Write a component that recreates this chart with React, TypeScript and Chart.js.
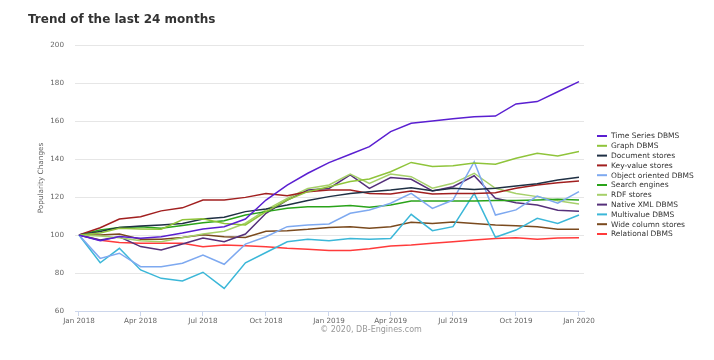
import React, { useEffect, useRef } from 'react';
import { Chart, registerables } from 'chart.js';

Chart.register(...registerables);

const TITLE = 'Trend of the last 24 months';
const CREDIT = '\u00a9 2020, DB-Engines.com';
const Y_TITLE = 'Popularity Changes';

const months = [
  '2018-01', '2018-02', '2018-03', '2018-04', '2018-05', '2018-06', '2018-07', '2018-08', '2018-09',
  '2018-10', '2018-11', '2018-12', '2019-01', '2019-02', '2019-03', '2019-04', '2019-05', '2019-06',
  '2019-07', '2019-08', '2019-09', '2019-10', '2019-11', '2019-12', '2020-01',
];

const tickMonths = ['2018-01', '2018-04', '2018-07', '2018-10', '2019-01', '2019-04', '2019-07', '2019-10', '2020-01'];
const tickLabels = ['Jan 2018', 'Apr 2018', 'Jul 2018', 'Oct 2018', 'Jan 2019', 'Apr 2019', 'Jul 2019', 'Oct 2019', 'Jan 2020'];

const timeSeries = [100, 97, 99.2, 98.3, 99.1, 101, 103.2, 104.4, 108.4, 118.4, 126.3, 132.5, 138.1, 142.5, 146.5, 154.4, 158.8, 160, 161.2, 162.3, 162.6, 169, 170.2, 175.4, 180.7];
const graphDbms = [100, 101, 103.5, 103.2, 103, 108, 108.5, 106, 105.3, 112.3, 118.4, 122.8, 125.4, 128.1, 129.5, 133.3, 138.2, 136, 136.5, 137.9, 137.2, 140.4, 143, 141.6, 143.9];
const documentStores = [100, 101.8, 104, 104.7, 105.3, 106.1, 108.4, 109.3, 112.3, 113.7, 115.8, 118.1, 120.2, 121.9, 122.8, 123.7, 124.9, 123.3, 124.6, 124, 124.6, 125.8, 127, 128.9, 130.4];
const keyValue = [100, 103.8, 108.4, 109.6, 112.7, 114.3, 118.4, 118.4, 119.8, 121.9, 120.7, 122.8, 123.7, 123.7, 121.9, 121.6, 123.2, 121.6, 121.9, 121.9, 122.3, 124.6, 126.3, 127.5, 128.4];
const objectOriented = [100, 87.7, 90.4, 83.3, 83.3, 85.1, 89.5, 84.6, 95.2, 99.1, 104.4, 105.3, 105.8, 111.4, 113.2, 116.7, 121.9, 114, 118.4, 138.6, 110.5, 113.2, 120.5, 116.7, 122.8];
const searchEngines = [100, 102.6, 104, 104.4, 103.5, 105, 106.5, 107.5, 110.5, 112.3, 114.1, 114.9, 114.9, 115.5, 114.6, 115.8, 117.9, 117.9, 117.9, 117.9, 118.1, 118.1, 118.4, 118.8, 118.4];
const rdfStores = [100, 99.5, 98.5, 97, 96.5, 98.5, 100.5, 102, 106.2, 113.2, 119.3, 124.5, 126.3, 132.1, 127.2, 132.1, 130.7, 124.6, 127.2, 132.5, 124.6, 121.9, 120.2, 118, 116.3];
const nativeXml = [100, 97.4, 99.1, 93.9, 92.1, 95.3, 98.4, 96.5, 100.5, 111.4, 118.4, 123.7, 124.5, 131.6, 124.5, 130.2, 129.3, 123.2, 125.4, 131.2, 119.3, 117, 115.8, 113, 112.5];
const multivalue = [100, 85.4, 93, 81.6, 77.2, 75.8, 80.4, 71.9, 85.4, 90.8, 96.4, 97.7, 97, 98.2, 97.7, 98.2, 110.9, 102.3, 104.4, 121.9, 98.8, 102.6, 108.8, 106.1, 110.5];
const wideColumn = [100, 100, 100.5, 97.8, 97.8, 98.7, 100.1, 99.1, 98.7, 102, 102.3, 103, 104, 104.4, 103.5, 104.4, 106.7, 106.1, 106.8, 106.1, 105.3, 104.9, 104.4, 103, 103];
const relational = [100, 97.2, 96, 95.7, 95.6, 95.6, 93.8, 94.8, 94.3, 93.8, 93, 92.5, 91.8, 91.8, 92.8, 94.2, 94.7, 95.6, 96.5, 97.4, 98.2, 98.6, 97.7, 98.4, 98.6];

const seriesNames = [
  'Time Series DBMS', 'Graph DBMS', 'Document stores', 'Key-value stores', 'Object oriented DBMS',
  'Search engines', 'RDF stores', 'Native XML DBMS', 'Multivalue DBMS', 'Wide column stores', 'Relational DBMS',
];
const seriesValues = [
  timeSeries, graphDbms, documentStores, keyValue, objectOriented,
  searchEngines, rdfStores, nativeXml, multivalue, wideColumn, relational,
];
const seriesColors = [
  '#5a1fd1', '#8fc43a', '#1f3044', '#a11f1f', '#7ea9f0',
  '#2aa31a', '#a6d06a', '#55307a', '#3bb7d8', '#7a4a1e', '#ff3b3b',
];

const FONT = '"DejaVu Sans", Verdana, sans-serif';

function dayOffset(m: string): number {
  const [y, mo] = m.split('-').map(Number);
  return (Date.UTC(y, mo - 1, 1) - Date.UTC(2018, 0, 1)) / 86400000;
}

const decorPlugin = {
  id: 'decor',
  afterDraw(chart: any) {
    const ctx = chart.ctx as CanvasRenderingContext2D;
    ctx.save();
    ctx.font = `bold 12px ${FONT}`;
    ctx.fillStyle = '#333333';
    ctx.textAlign = 'left';
    ctx.textBaseline = 'alphabetic';
    ctx.fillText(TITLE, 28, 23);

    chart.data.datasets.forEach((ds: any, i: number) => {
      const y = 136 + i * 9.8;
      ctx.strokeStyle = ds.borderColor;
      ctx.lineWidth = 2;
      ctx.beginPath();
      ctx.moveTo(597, y);
      ctx.lineTo(607, y);
      ctx.stroke();
      ctx.font = `7.5px ${FONT}`;
      ctx.fillStyle = '#333333';
      ctx.textBaseline = 'middle';
      ctx.textAlign = 'left';
      ctx.fillText(ds.label, 611, y + 0.5);
    });

    ctx.font = `8px ${FONT}`;
    ctx.fillStyle = '#999999';
    ctx.textAlign = 'center';
    ctx.textBaseline = 'middle';
    ctx.fillText(CREDIT, 371, 330);
    ctx.restore();
  },
};

export default function App() {
  const ref = useRef<HTMLCanvasElement | null>(null);

  useEffect(() => {
    if (!ref.current) return;
    const xs = months.map(dayOffset);
    const tickDays = tickMonths.map(dayOffset);
    const chart = new Chart(ref.current, {
      type: 'line',
      data: {
        datasets: seriesNames.map((name, i) => ({
          label: name,
          data: seriesValues[i].map((v, j) => ({ x: xs[j], y: v })),
          borderColor: seriesColors[i],
          backgroundColor: seriesColors[i],
          borderWidth: 1.5,
          pointRadius: 0,
          tension: 0,
          fill: false,
        })),
      },
      options: {
        animation: false,
        responsive: false,
        layout: { padding: { top: 45, right: 130, bottom: 0, left: 0 } },
        plugins: {
          legend: { display: false },
          title: { display: false },
          tooltip: { enabled: false },
        },
        scales: {
          x: {
            type: 'linear',
            min: -5.8,
            max: 737.3,
            afterBuildTicks: (s: any) => {
              s.ticks = tickDays.map((v) => ({ value: v }));
            },
            afterFit: (s: any) => {
              s.height = 49;
            },
            ticks: {
              autoSkip: false,
              maxRotation: 0,
              padding: 1,
              color: '#666666',
              font: { family: FONT, size: 7.2 },
              callback: (v: any) => {
                const idx = tickDays.indexOf(Number(v));
                return idx >= 0 ? tickLabels[idx] : '';
              },
            },
            grid: { drawOnChartArea: false, drawTicks: true, tickLength: 5, color: '#ccd6eb' },
            border: { display: true, color: '#ccd6eb', width: 1 },
          },
          y: {
            min: 60,
            max: 200,
            afterFit: (s: any) => {
              s.width = 75;
            },
            ticks: {
              stepSize: 20,
              padding: 11,
              color: '#666666',
              font: { family: FONT, size: 7.2 },
            },
            grid: { color: '#e6e6e6', drawTicks: false },
            border: { display: false },
            title: {
              display: true,
              text: Y_TITLE,
              color: '#666666',
              font: { family: FONT, size: 7.3 },
              padding: { top: 37, bottom: 0 },
            },
          },
        },
      },
      plugins: [decorPlugin],
    } as any);
    return () => chart.destroy();
  }, []);

  return (
    <div style={{ position: 'fixed', left: 0, top: 0, width: 714, height: 360, background: '#ffffff' }}>
      <canvas ref={ref} width={714} height={360} style={{ display: 'block', width: 714, height: 360 }} />
    </div>
  );
}
